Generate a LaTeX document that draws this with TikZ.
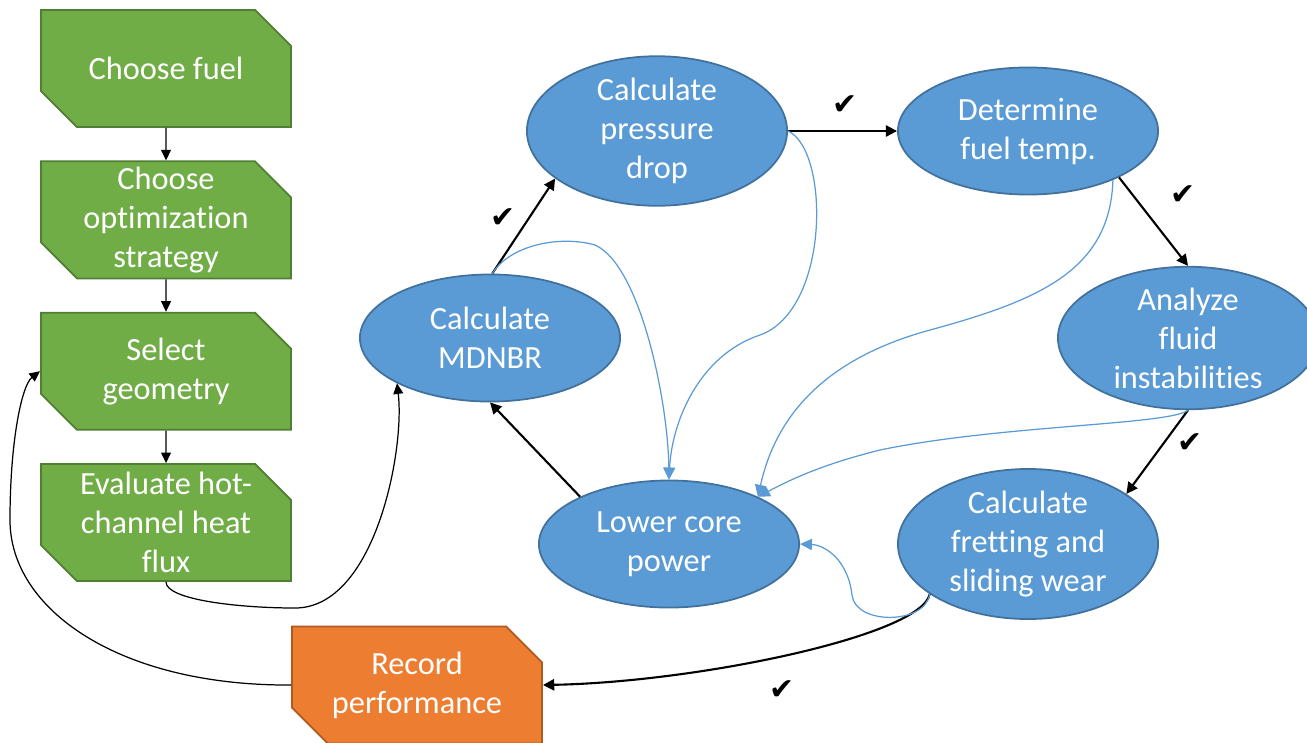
\documentclass[tikz,border=0pt]{standalone}
\usepackage{fontspec}
\setmainfont{Carlito}[Ligatures=NoCommon]
\newfontfamily\symfont{DejaVu Sans}
\usetikzlibrary{arrows.meta, positioning, shapes.geometric, shapes.misc}
\definecolor{leaf}{HTML}{70AD47}
\definecolor{leafline}{HTML}{507E32}
\definecolor{rust}{HTML}{ED7D31}
\definecolor{rustline}{HTML}{AE5A21}
\definecolor{sky}{HTML}{5B9BD5}
\definecolor{skyline}{HTML}{41719C}
\newcommand{\boxfont}{\fontsize{9.2}{11.1}\selectfont}
\newcommand{\snip}[1]{\parbox[c][0.81cm][c]{2.14cm}{\centering #1}}

\begin{document}
\begin{tikzpicture}[x=0.01cm, y=-0.01cm,
  snipbox/.style={shape=chamfered rectangle,
    chamfered rectangle corners={north east,south west},
    chamfered rectangle xsep=0.18cm, chamfered rectangle ysep=0.18cm,
    inner sep=0pt, text=white, font=\boxfont, line width=0.5pt},
  greenbox/.style={snipbox, draw=leafline, fill=leaf},
  orangebox/.style={snipbox, draw=rustline, fill=rust},
  task/.style={ellipse, draw=skyline, fill=sky, minimum width=2.6cm,
    minimum height=1.27cm, inner sep=0pt, align=center, text=white,
    font=\boxfont, line width=0.5pt},
  flow/.style={-{Triangle[length=3.2pt,width=3.2pt]}, line width=0.6pt},
  link/.style={-{Triangle[length=3pt,width=2.8pt]}, line width=0.35pt},
  back/.style={-{Triangle[length=3.4pt,width=3.2pt]}, sky, line width=0.35pt},
  tick/.style={font=\symfont\fontsize{8.5}{8.5}\selectfont}]
  \useasboundingbox (0,0) rectangle (1307,742);
  % Design steps
  \node[greenbox] (fuel) at (166,68.5) {\snip{Choose fuel}};
  \node[greenbox, below=0.325cm of fuel] (strategy) {\snip{Choose\\optimization\\strategy}};
  \node[greenbox, below=0.325cm of strategy] (geometry) {\snip{Select\\geometry}};
  \node[greenbox, below=0.325cm of geometry] (heatflux) {\snip{Evaluate hot-\\channel heat\\flux}};
  \node[orangebox] (record) at (417,685) {\snip{Record\\performance}};
  % Checks
  \node[task] (pressure) at (657,131) {Calculate\\pressure\\drop};
  \node[task] (fueltemp) at (1028,131) {Determine\\fuel temp.};
  \node[task] (instab) at (1188,338) {Analyze\\fluid\\instabilities};
  \node[task] (wear) at (1028,544) {Calculate\\fretting and\\sliding wear};
  \node[task] (power) at (669,544) {Lower core\\power};
  \node[task] (mdnbr) at (490,338) {Calculate\\MDNBR};
  % Column arrows
  \draw[link] (fuel) -- (strategy);
  \draw[link] (strategy) -- (geometry);
  \draw[link] (geometry) -- (heatflux);
  \draw[link] (heatflux.south) .. controls (166,600) and (240,608) .. (295,608)
    .. controls (375,608) and (405,450) .. (mdnbr.206);
  \draw[link] (record.west) .. controls (120,686) and (10,610) .. (10,520)
    .. controls (10,440) and (22,385) .. (geometry.west);
  % Loop of checks
  \draw[flow] (mdnbr.88) -- (pressure.205);
  \draw[flow] (pressure.east) -- (fueltemp.west);
  \draw[flow] (fueltemp.-27) -- (instab.north);
  \draw[flow] (instab.south) -- (wear.27);
  \draw[flow] (power.152) -- (mdnbr.south);
  \draw[flow] (wear.207) .. controls (922,635) and (700,682) .. (record.east);
  % Failed checks go back
  \draw[back] (mdnbr.88) .. controls (510,245) and (560,235) .. (595,245)
    .. controls (640,265) and (668,400) .. (power.north);
  \draw[back] (pressure.east) .. controls (830,150) and (830,310) .. (760,335)
    .. controls (700,355) and (672,420) .. (power.north);
  \draw[back] (fueltemp.-30) .. controls (1110,270) and (1040,300) .. (930,330)
    .. controls (820,360) and (775,420) .. (power.28);
  \draw[back] (instab.south) .. controls (1170,425) and (1000,425) .. (880,450)
    .. controls (820,465) and (790,480) .. (power.28);
  \draw[back] (wear.207) .. controls (925,625) and (855,625) .. (852,595)
    .. controls (848,560) and (825,545) .. (power.east);
  % Ticks
  \node[tick] (ck1) at (503,218) {✔};
  \node[tick] (ck2) at (845,105) {✔};
  \node[tick] (ck3) at (1183,195) {✔};
  \node[tick] (ck4) at (1190,443) {✔};
  \node[tick] (ck5) at (782,690) {✔};
\end{tikzpicture}
\end{document}
